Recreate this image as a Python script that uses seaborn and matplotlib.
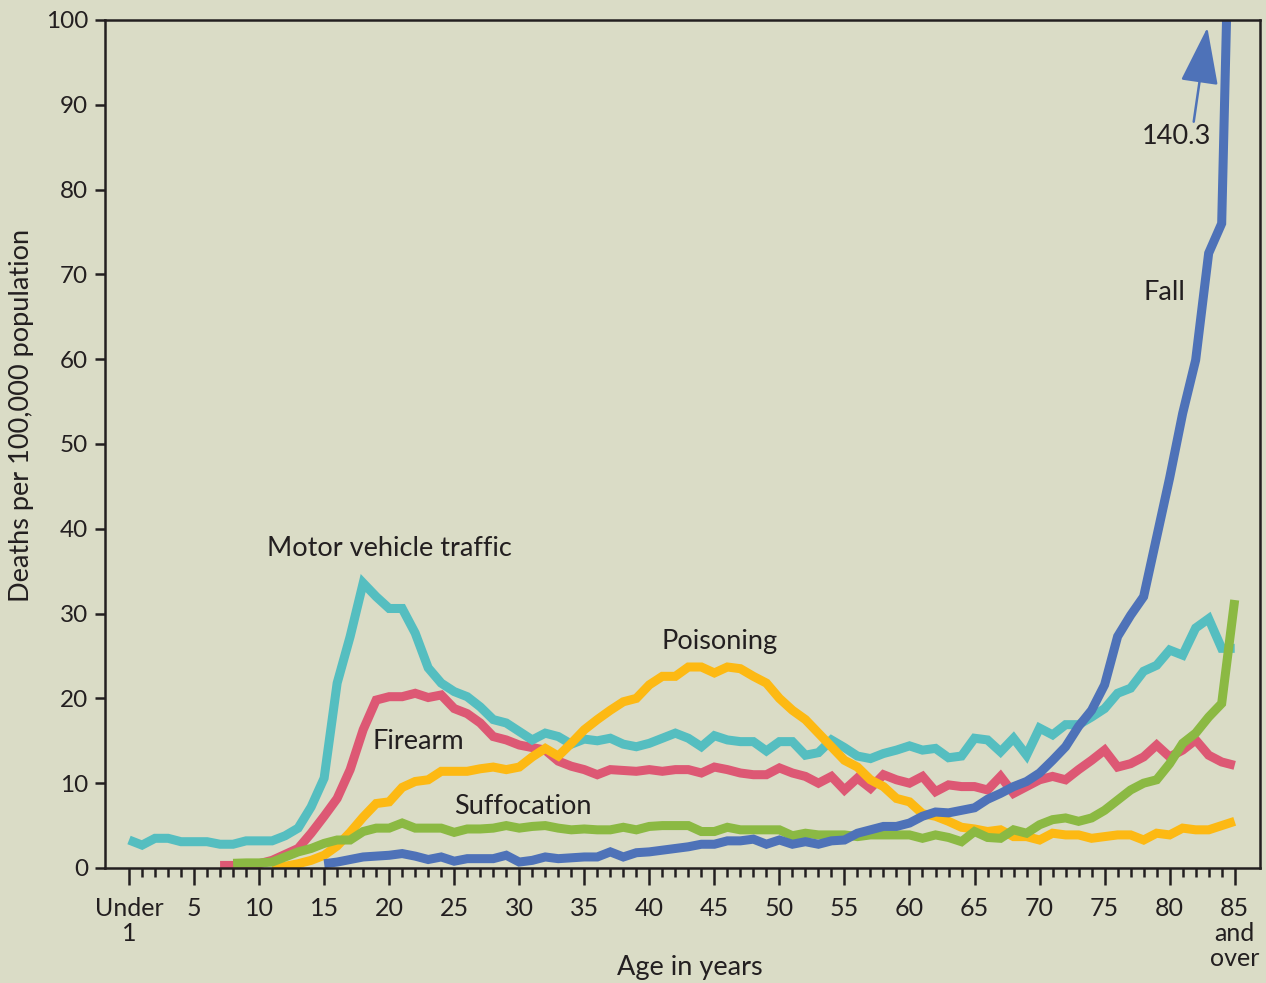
import numpy as np
import pandas as pd
import matplotlib
matplotlib.use("Agg")
import matplotlib.pyplot as plt
import seaborn as sns

# deaths per 100,000 population by single year of age (85 = 85 and over)
motor_start = 0
motor = [3.3, 2.7, 3.5, 3.5, 3.1, 3.1, 3.1, 2.8, 2.8, 3.2,
         3.2, 3.2, 3.8, 4.7, 7.2, 10.6, 21.8, 27.3, 33.6, 32.0,
         30.6, 30.6, 27.7, 23.6, 21.8, 20.8, 20.2, 19.0, 17.5, 17.1,
         16.1, 15.1, 15.9, 15.5, 14.6, 15.2, 15.0, 15.3, 14.6, 14.3,
         14.7, 15.3, 15.9, 15.3, 14.3, 15.6, 15.1, 14.9, 14.9, 13.8,
         14.9, 14.9, 13.3, 13.6, 15.1, 14.2, 13.2, 12.9, 13.5, 13.9,
         14.4, 13.9, 14.1, 13.0, 13.2, 15.3, 15.1, 13.7, 15.3, 13.3,
         16.5, 15.7, 16.9, 16.9, 17.8, 18.8, 20.6, 21.2, 23.2, 23.9,
         25.7, 25.1, 28.3, 29.4, 25.9, 25.9]

firearm_start = 7
firearm = [0.3, 0.3, 0.3, 0.5, 0.9, 1.6, 2.3, 4.1, 6.1, 8.2,
           11.6, 16.3, 19.8, 20.2, 20.2, 20.6, 20.1, 20.4, 18.8, 18.2,
           17.1, 15.5, 15.1, 14.5, 14.2, 13.9, 12.6, 12.0, 11.6, 11.0,
           11.6, 11.5, 11.4, 11.6, 11.4, 11.6, 11.6, 11.2, 11.9, 11.6,
           11.2, 11.0, 11.0, 11.8, 11.2, 10.8, 10.0, 10.8, 9.2, 10.6,
           9.4, 11.0, 10.4, 10.0, 10.8, 9.0, 9.8, 9.6, 9.6, 9.2,
           10.8, 8.8, 9.6, 10.4, 10.8, 10.4, 11.6, 12.7, 13.9, 11.9,
           12.3, 13.1, 14.5, 13.1, 13.9, 15.1, 13.3, 12.5, 12.1]

poison_start = 11
poison = [0.0, 0.2, 0.5, 0.9, 1.5, 2.6, 4.2, 6.0, 7.6, 7.8,
          9.5, 10.2, 10.4, 11.4, 11.4, 11.4, 11.7, 11.9, 11.6, 11.9,
          13.1, 14.1, 13.2, 14.7, 16.3, 17.5, 18.6, 19.6, 20.0, 21.6,
          22.6, 22.6, 23.7, 23.7, 23.0, 23.7, 23.5, 22.6, 21.8, 20.0,
          18.6, 17.5, 15.9, 14.3, 12.7, 11.9, 10.4, 9.6, 8.2, 7.8,
          6.4, 6.1, 5.5, 4.8, 4.6, 4.3, 4.5, 3.7, 3.7, 3.3,
          4.1, 3.9, 3.9, 3.5, 3.7, 3.9, 3.9, 3.3, 4.1, 3.9,
          4.7, 4.5, 4.5, 5.0, 5.5]

suffoc_start = 8
suffoc = [0.55, 0.6, 0.6, 0.7, 1.3, 1.9, 2.3, 2.9, 3.3, 3.3,
          4.3, 4.7, 4.7, 5.3, 4.7, 4.7, 4.7, 4.2, 4.6, 4.6,
          4.7, 5.0, 4.7, 4.9, 5.0, 4.7, 4.5, 4.6, 4.5, 4.5,
          4.8, 4.5, 4.9, 5.0, 5.0, 5.0, 4.3, 4.3, 4.8, 4.5,
          4.5, 4.5, 4.5, 3.8, 4.1, 3.9, 3.9, 3.9, 3.7, 3.9,
          3.9, 3.9, 3.9, 3.5, 3.9, 3.6, 3.1, 4.3, 3.6, 3.5,
          4.5, 4.1, 5.1, 5.7, 5.9, 5.5, 5.9, 6.8, 8.0, 9.2,
          10.0, 10.4, 12.3, 14.7, 15.9, 17.8, 19.4, 31.6]

fall_start = 15
fall = [0.5, 0.7, 1.0, 1.3, 1.4, 1.5, 1.7, 1.4, 1.0, 1.3,
        0.8, 1.1, 1.1, 1.1, 1.5, 0.7, 0.9, 1.3, 1.1, 1.2,
        1.3, 1.3, 1.9, 1.3, 1.8, 1.9, 2.1, 2.3, 2.5, 2.8,
        2.8, 3.2, 3.2, 3.4, 2.8, 3.3, 2.8, 3.1, 2.8, 3.2,
        3.3, 4.1, 4.5, 4.9, 4.9, 5.3, 6.1, 6.6, 6.5, 6.8,
        7.1, 8.1, 8.8, 9.6, 10.2, 11.2, 12.7, 14.3, 16.7, 18.6,
        21.6, 27.3, 29.8, 32.0, 39.0, 46.0, 53.6, 59.9, 72.5, 76.0,
        140.3]

tick_ages = list(range(0, 90, 5))
tick_labels = ["Under\n1"] + [str(a) for a in tick_ages[1:-1]] + ["85\nand\nover"]

BG = "#dadcc6"
INK = "#231f20"
FALL_BLUE = "#4e72b8"
series = [
    ("Firearm", firearm_start, firearm, "#dd5874"),
    ("Motor vehicle traffic", motor_start, motor, "#55bec0"),
    ("Poisoning", poison_start, poison, "#fdb913"),
    ("Suffocation", suffoc_start, suffoc, "#8bb943"),
    ("Fall", fall_start, fall, FALL_BLUE),
]

sns.set_theme(style="ticks")
plt.rcParams["font.family"] = ["Lato", "DejaVu Sans"]
plt.rcParams["text.color"] = INK

fig = plt.figure(figsize=(12.66, 9.83), dpi=100, facecolor=BG)
ax = fig.add_axes([0.0829, 0.117, 0.9124, 0.8627])
ax.set_facecolor(BG)

for name, start, vals, color in series:
    df = pd.DataFrame({"age": np.arange(start, start + len(vals)), "rate": vals})
    sns.lineplot(data=df, x="age", y="rate", color=color, lw=6.5, ax=ax,
                 solid_joinstyle="miter", solid_capstyle="butt")

ax.set_xlim(-1.85, 86.95)
ax.set_ylim(0, 100)
ax.set_xticks(tick_ages)
ax.set_xticklabels(tick_labels, fontsize=18, color=INK, linespacing=1.1)
ax.set_xticks([a for a in range(1, 85) if a % 5], minor=True)
ax.set_yticks(range(0, 101, 10))
ax.tick_params(axis="y", labelsize=17.5, labelcolor=INK, length=7, width=1.8,
               color=INK, pad=5)
ax.tick_params(axis="x", which="major", length=12, width=1.8, color=INK, pad=9)
ax.tick_params(axis="x", which="minor", length=6.5, width=1.8, color=INK)
for sp in ax.spines.values():
    sp.set_visible(True)
    sp.set_color(INK)
    sp.set_linewidth(1.8)
ax.set_xlabel("")
ax.set_ylabel("")

fig.text(22 / 1266, 1 - 415 / 983, "Deaths per 100,000 population", rotation=90,
         ha="center", va="center", fontsize=19.5)
fig.text(690 / 1266, 1 - 967 / 983, "Age in years", ha="center", va="center",
         fontsize=19.5)

lab = dict(fontsize=19.5, va="center", ha="left")
ax.text(10.6, 37.7, "Motor vehicle traffic", **lab)
ax.text(18.7, 14.9, "Firearm", **lab)
ax.text(25.0, 7.2, "Suffocation", **lab)
ax.text(40.9, 26.7, "Poisoning", **lab)
ax.text(78.0, 67.9, "Fall", **lab)
ax.text(77.85, 86.2, "140.3", **lab)
ax.annotate("", xy=(82.9, 99.1), xytext=(81.85, 88.0),
            arrowprops=dict(arrowstyle="-|>,head_length=1.8,head_width=0.6",
                            mutation_scale=20, color=FALL_BLUE, lw=1.8,
                            shrinkA=0, shrinkB=0))

fig.savefig("out.png", dpi=100, facecolor=BG)
